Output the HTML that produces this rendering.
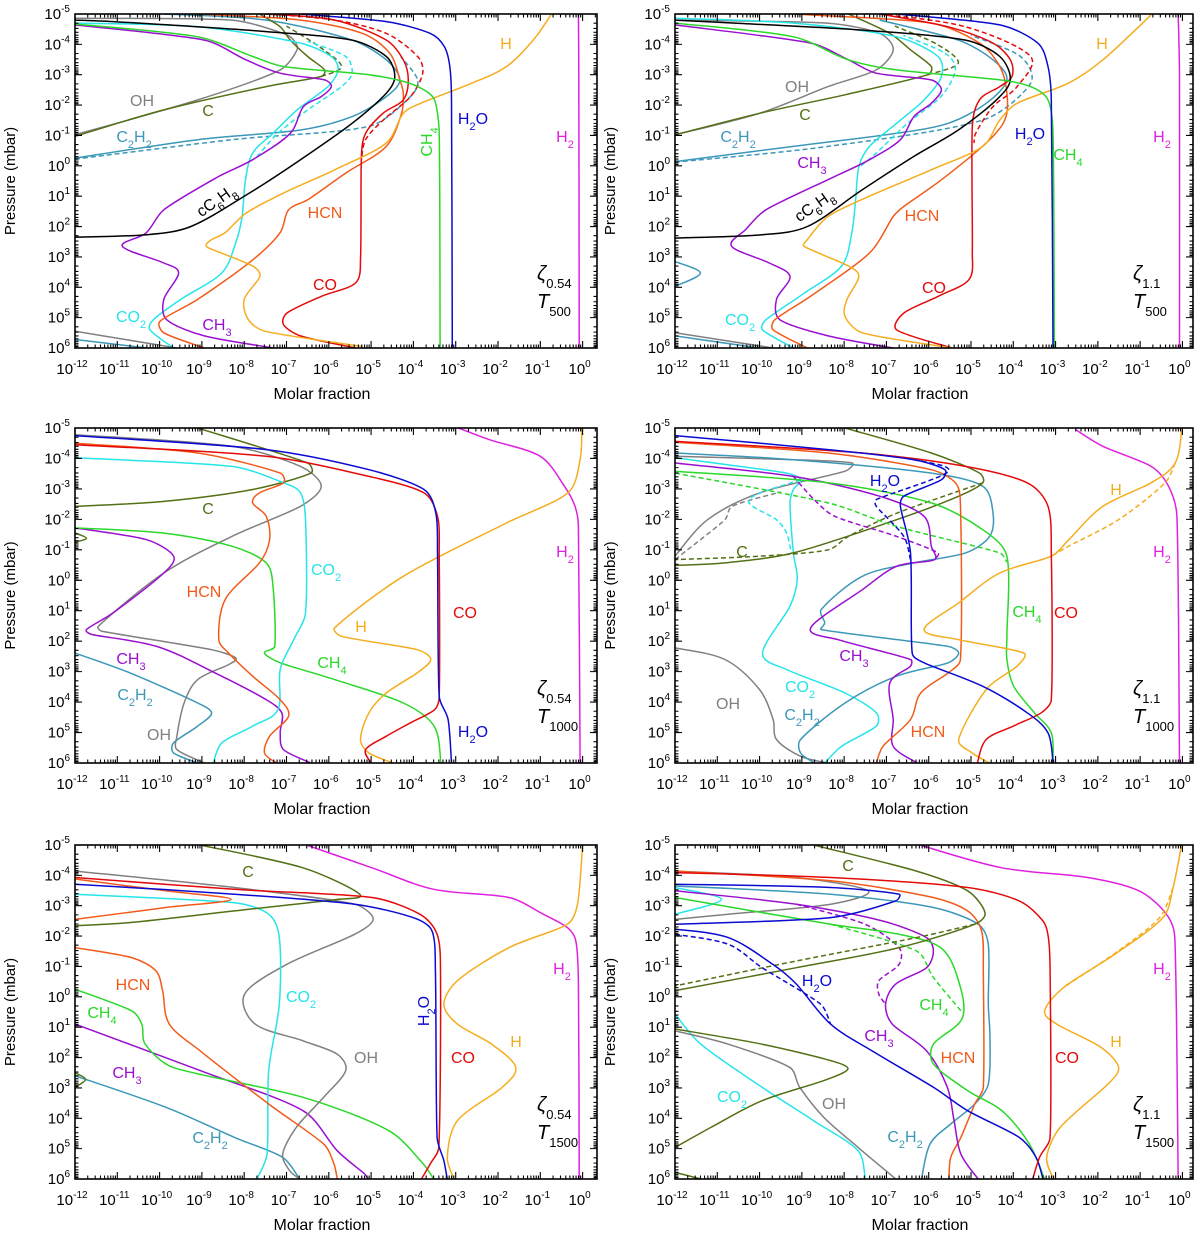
<!DOCTYPE html>
<html><head><meta charset="utf-8"><title>Molar fraction profiles</title>
<style>
html,body{margin:0;padding:0;background:#fff;}
svg{display:block;font-family:"Liberation Sans",sans-serif;}
</style></head>
<body>
<svg id="fig" width="1200" height="1233" viewBox="0 0 1200 1233" xmlns="http://www.w3.org/2000/svg"></svg>
<script>
// ---------- data: [log10 molar fraction, log10 pressure(mbar)] ----------
// Panel 1: zeta0.54 T500
const p1_H2=[[-0.1,-5],[-0.09,-3],[-0.08,6]];
const p1_H2O=[[-6.67,-5],[-4.64,-4.75],[-3.6,-4.36],[-3.27,-3.93],[-3.14,-3.27],[-3.1,-2.17],[-3.08,6]];
const p1_H=[[-5.2,5.95],[-7.5,5.45],[-7.9,5.07],[-8,4.4],[-7.63,3.64],[-7.8,3.3],[-8.85,2.7],[-8.9,2.6],[-8.77,2.43],[-8.45,2.2],[-7.96,1.56],[-7.07,0.9],[-5.86,0.13],[-4.64,-0.75],[-4.24,-1.73],[-3.83,-2.06],[-2.62,-2.72],[-1.8,-3.27],[-1.16,-4.15],[-0.75,-4.97]];
const p1_CH4=[[-12,-4.67],[-9.1,-4.25],[-7.8,-3.6],[-7.07,-3.27],[-5.05,-3],[-4.24,-2.78],[-3.75,-2.5],[-3.5,-2.17],[-3.39,-1.08],[-3.37,6]];
const p1_CO=[[-5.37,6],[-6.67,5.6],[-7.07,5.23],[-6.99,4.85],[-6.18,4.3],[-5.37,3.86],[-5.25,3.09],[-5.23,-0.3],[-5.13,-1.07],[-4.72,-1.73],[-4.24,-2.17],[-4.12,-2.83],[-4.24,-3.49],[-4.64,-4.14],[-5.86,-4.8],[-7.48,-5]];
const p1_COd=[[-7.48,-5],[-5.86,-4.8],[-4.64,-4.36],[-3.9,-3.6],[-3.78,-3.05],[-4.07,-2.28],[-4.72,-1.5],[-5.13,-0.86],[-5.23,-0.2]];
const p1_HCN=[[-8.94,6],[-9.9,5.5],[-9.99,5.12],[-9.1,4.4],[-7.8,3.1],[-7.15,2.2],[-6.95,1.45],[-6.5,1.12],[-5.6,0.24],[-4.64,-0.64],[-4.28,-1.73],[-4.24,-2.39],[-4.32,-2.83],[-4.56,-3.71],[-5.2,-4.36],[-6.67,-4.8],[-9.1,-5]];
const p1_CO2=[[-9.67,6],[-10.23,5.4],[-10.15,5.07],[-9.5,4.4],[-8.53,3.53],[-8.2,2.54],[-8.05,1.67],[-7.97,0.46],[-7.8,-0.42],[-7.32,-1.07],[-6.75,-1.84],[-6.02,-2.61],[-5.78,-3.16],[-5.94,-3.6],[-6.67,-4.04],[-9.1,-4.58],[-12,-4.7]];
const p1_CO2d=[[-7.7,-0.3],[-7.2,-1.07],[-6.5,-1.84],[-5.7,-2.61],[-5.45,-3.05],[-5.6,-3.6],[-6.5,-4.1]];
const p1_CH3=[[-7.3,6],[-8.94,5.6],[-9.83,5.07],[-9.9,4.4],[-9.55,3.53],[-9.9,3.2],[-10.88,2.65],[-10.32,2.21],[-9.9,1.45],[-8.6,0.35],[-7.8,-0.2],[-6.91,-1.07],[-6.6,-1.95],[-6.18,-2.28],[-5.94,-2.61],[-6.1,-2.83],[-7.15,-3.05],[-7.96,-3.49],[-8.94,-4.14],[-12,-4.64]];
const p1_OH=[[-12,-4.86],[-8.3,-4.8],[-7.07,-4.36],[-6.83,-4.14],[-6.75,-3.82],[-7.15,-3.16],[-9.1,-2.17],[-12,-1.02]];
const p1_OHb=[[-12,5.45],[-9.59,6]];
const p1_C=[[-12,-0.97],[-9.9,-1.84],[-7.48,-2.61],[-6.18,-2.94],[-6.1,-3.16],[-6.5,-3.6],[-6.91,-4.14],[-7.15,-4.58],[-7.64,-5]];
const p1_Cd=[[-6.18,-2.94],[-5.7,-3.27],[-6.2,-3.9],[-7.0,-4.6]];
const p1_C2H2=[[-12,-0.25],[-9.1,-0.86],[-6.67,-1.18],[-5.45,-1.62],[-4.64,-2.28],[-4.32,-2.83],[-4.64,-3.49],[-5.45,-4.14],[-7.48,-4.8],[-9.9,-5]];
const p1_C2H2d=[[-12,-0.22],[-8.29,-0.86],[-5.05,-1.3],[-4.07,-2.28],[-3.9,-2.83],[-4.3,-3.6]];
const p1_C2H2b=[[-12,5.72],[-10.3,6]];
const p1_C6H8=[[-12,2.35],[-10.3,2.27],[-9.26,2.0],[-7.88,0.9],[-6.67,-0.2],[-5.45,-1.4],[-4.64,-2.39],[-4.44,-2.94],[-4.64,-3.6],[-5.45,-4.14],[-7.48,-4.42],[-11.1,-4.75],[-12,-4.8]];
// Panel 2: zeta1.1 T500
const p2_H2=[[-0.1,-5],[-0.07,-3],[-0.07,6]];
const p2_H2O=[[-6.76,-5],[-4.32,-4.64],[-3.42,-4.04],[-3.18,-3.27],[-3.1,-2.17],[-3.06,6]];
const p2_CH4=[[-12,-4.7],[-9.2,-4.25],[-7.9,-3.49],[-6.76,-3.16],[-4.32,-2.83],[-3.59,-2.61],[-3.18,-2.17],[-3.06,-1.07],[-3.03,6]];
const p2_H=[[-5.45,6],[-7.57,5.5],[-7.98,4.96],[-7.93,4.4],[-7.65,3.64],[-7.9,3.3],[-8.95,2.65],[-8.87,2.43],[-8.38,1.67],[-7.4,1.0],[-5.94,0.13],[-4.72,-0.64],[-4.32,-1.51],[-3.91,-2.06],[-2.7,-2.72],[-1.88,-3.49],[-0.74,-4.97]];
const p2_CO=[[-5.45,6],[-6.76,5.4],[-6.59,4.85],[-5.78,4.3],[-5.05,3.75],[-4.97,2.87],[-4.97,-1.29],[-4.8,-2.17],[-4.32,-2.61],[-4.03,-2.94],[-4.07,-3.49],[-4.48,-4.04],[-5.54,-4.58],[-7.16,-5]];
const p2_COd=[[-7.16,-5],[-5.13,-4.58],[-3.59,-3.6],[-3.91,-2.61],[-4.48,-1.95],[-4.89,-1.07],[-4.93,-0.75]];
const p2_HCN=[[-8.87,6],[-9.68,5.4],[-9.64,5.07],[-8.8,4.3],[-7.4,2.87],[-6.84,1.67],[-6.59,1.34],[-5.7,0.46],[-4.64,-0.75],[-4.2,-1.51],[-4.15,-2.39],[-4.32,-3.27],[-4.8,-4.04],[-5.94,-4.7],[-9.2,-5]];
const p2_CO2=[[-9.2,6],[-9.93,5.4],[-9.85,5.07],[-8.95,4.2],[-8.06,3.3],[-7.82,2.21],[-7.73,1.12],[-7.65,0.02],[-7.4,-0.64],[-6.76,-1.4],[-6.11,-2.17],[-5.7,-2.94],[-5.78,-3.6],[-6.76,-4.25],[-9.2,-4.7],[-12,-4.86]];
const p2_CO2d=[[-7.6,0.0],[-7.24,-0.42],[-6.5,-1.4],[-5.7,-2.3],[-5.37,-3.16],[-5.6,-3.7],[-6.6,-4.3]];
const p2_CH3=[[-6.84,6],[-8.38,5.6],[-9.52,5.07],[-9.6,4.4],[-9.28,3.64],[-9.77,3.2],[-10.66,2.65],[-10.33,2.1],[-9.85,1.45],[-8.22,0.35],[-7.4,-0.2],[-6.67,-0.86],[-6.35,-1.62],[-5.94,-2.06],[-5.7,-2.5],[-5.94,-2.83],[-7.24,-3.05],[-7.9,-3.49],[-8.79,-4.04],[-12,-4.64]];
const p2_OH=[[-12,-4.8],[-8.4,-4.7],[-7.16,-4.36],[-6.84,-3.82],[-7.24,-3.16],[-8.38,-2.61],[-10,-1.73],[-12,-1.02]];
const p2_OHb=[[-12,5.5],[-9.68,6]];
const p2_C=[[-12,-1.02],[-10,-1.73],[-7.98,-2.34],[-6.02,-3.0],[-5.94,-3.27],[-6.43,-3.82],[-6.92,-4.36],[-7.9,-5]];
const p2_Cd=[[-6.02,-3.0],[-5.3,-3.38],[-5.8,-4.0],[-6.8,-4.6]];
const p2_C2H2=[[-12,-0.14],[-9.2,-0.64],[-6.76,-1.07],[-5.54,-1.4],[-4.64,-2.06],[-4.15,-2.83],[-4.48,-3.49],[-5.3,-4.14],[-7.16,-4.8]];
const p2_C2H2d=[[-12,-0.12],[-8.38,-0.64],[-4.72,-1.51],[-3.59,-2.72],[-3.83,-3.6],[-5.0,-4.3]];
const p2_C2H2l=[[-12,3.15],[-11.4,3.53],[-12,3.97]];
const p2_C2H2b=[[-12,5.6],[-10,6]];
const p2_C6H8=[[-12,2.38],[-9.93,2.27],[-8.87,2.0],[-7.57,0.79],[-6.35,-0.31],[-5.3,-1.18],[-4.4,-2.17],[-4.07,-2.83],[-4.32,-3.6],[-5.13,-4.14],[-7.57,-4.47],[-10.58,-4.7],[-12,-4.8]];
// Panel 3: zeta0.54 T1000
const p3_H2=[[-2.94,-5],[-2.21,-4.62],[-1.0,-4.07],[-0.43,-3.09],[-0.18,-2.43],[-0.1,-1.77],[-0.06,6]];
const p3_H=[[-0.02,-5],[-0.06,-3.96],[-0.35,-2.87],[-1.8,-1.88],[-4.24,-0.13],[-5.86,1.56],[-5.7,1.84],[-3.91,2.28],[-3.59,2.6],[-3.91,3.04],[-4.64,3.7],[-5.05,4.35],[-5.25,5.23],[-5.05,5.67],[-4.48,6]];
const p3_CO=[[-12,-4.45],[-7.48,-4.07],[-5.05,-3.41],[-3.75,-2.87],[-3.43,-2.1],[-3.39,-0.9],[-3.39,3.81],[-3.5,4.25],[-4.07,4.68],[-4.64,5.12],[-5.13,5.56],[-5.0,6]];
const p3_H2O=[[-12,-4.75],[-7.48,-4.29],[-5.05,-3.63],[-3.75,-2.98],[-3.47,-2.21],[-3.43,-0.9],[-3.39,3.81],[-3.18,4.57],[-3.1,6]];
const p3_HCN=[[-12,-4.5],[-9.1,-4.18],[-7.15,-3.52],[-7.07,-3.2],[-7.64,-2.87],[-7.8,-2.54],[-7.48,-2.1],[-7.4,-1.33],[-7.64,-0.57],[-8.45,0.63],[-8.6,1.95],[-8.37,2.39],[-7.8,3.15],[-7.15,3.92],[-6.95,4.46],[-7.4,5.12],[-7.52,5.67],[-7.24,6]];
const p3_CO2=[[-12,-4.02],[-8.29,-3.74],[-7.07,-3.2],[-6.67,-2.87],[-6.55,-1.99],[-6.55,1.07],[-6.83,1.95],[-7.15,2.93],[-7.2,4.25],[-7.8,4.79],[-8.53,5.34],[-8.73,6]];
const p3_C=[[-9.1,-5],[-6.5,-3.85],[-6.42,-3.52],[-7.8,-2.98],[-9.9,-2.59],[-12,-2.43]];
const p3_Cl=[[-12,-1.55],[-11.73,-1.38],[-12,-1.25]];
const p3_OH=[[-12,-4.78],[-8.29,-4.4],[-6.67,-3.74],[-6.18,-3.09],[-6.67,-2.43],[-8.29,-1.44],[-9.9,-0.24],[-11.45,1.51],[-11.37,1.67],[-8.77,2.28],[-8.2,2.55],[-8.37,2.77],[-9.1,3.26],[-9.42,4.03],[-9.59,5.12],[-9.59,5.56],[-8.94,6]];
const p3_CH4=[[-12,-1.72],[-9.9,-1.55],[-8.29,-1.12],[-7.48,-0.57],[-7.32,0.2],[-7.28,2.17],[-7.52,2.39],[-7.15,2.71],[-5.86,3.26],[-4.24,4.03],[-3.51,4.79],[-3.35,6]];
const p3_CH3=[[-12,-1.72],[-10.3,-1.33],[-9.67,-0.79],[-9.9,-0.24],[-11.1,1.07],[-11.73,1.62],[-11.6,1.78],[-10.07,2.17],[-8.69,3.04],[-7.48,3.92],[-7.11,4.36],[-7.15,5.01],[-7.07,5.56],[-6.42,6]];
const p3_C2H2=[[-12,2.39],[-10.7,3.04],[-9.1,4.03],[-8.77,4.36],[-9.1,4.79],[-9.67,5.34],[-9.67,5.67],[-9.1,6]];
// Panel 4: zeta1.1 T1000
const p4_H2=[[-2.53,-4.95],[-1.88,-4.4],[-0.74,-3.74],[-0.33,-3.09],[-0.13,-2.1],[-0.07,6]];
const p4_H=[[-0.01,-5],[-0.17,-3.85],[-0.74,-3.2],[-1.88,-2.43],[-2.69,-1.33],[-3.1,-0.79],[-4.32,-0.24],[-5.29,0.74],[-6.11,1.62],[-5.29,1.95],[-3.75,2.39],[-3.91,2.82],[-4.64,3.59],[-5.29,5.23],[-4.97,5.67],[-4.56,6]];
const p4_Hd=[[-0.17,-3.85],[-0.41,-3.2],[-1.5,-2.0],[-2.69,-1.12],[-3.1,-0.79]];
const p4_CO=[[-12,-4.56],[-7.57,-4.18],[-5.13,-3.74],[-3.67,-3.2],[-3.18,-2.43],[-3.1,-0.9],[-3.1,3.92],[-3.34,4.35],[-4.0,4.79],[-4.64,5.23],[-4.85,6]];
const p4_H2O=[[-12,-4.75],[-8.38,-4.29],[-6.35,-3.96],[-5.62,-3.63],[-5.7,-3.3],[-6.59,-2.76],[-6.67,-2.43],[-6.43,-0.9],[-6.39,2.39],[-6.11,2.71],[-4.72,3.48],[-3.67,4.35],[-3.18,5.01],[-3.06,6]];
const p4_H2Od=[[-6.35,-3.96],[-5.54,-3.57],[-7.24,-2.65],[-7.24,-2.43],[-6.59,-1.44],[-6.43,-0.68]];
const p4_HCN=[[-12,-4.53],[-8.38,-4.18],[-5.94,-3.63],[-5.37,-3.2],[-5.25,-2.54],[-5.25,2.6],[-5.54,3.04],[-6.19,3.7],[-6.43,4.57],[-7.08,5.45],[-7.24,6]];
const p4_C=[[-7.98,-5],[-5.94,-4.18],[-4.8,-3.52],[-4.72,-3.2],[-5.29,-2.76],[-6.76,-1.99],[-9.2,-0.9],[-10.82,-0.57],[-12,-0.49]];
const p4_Cd=[[-4.72,-3.2],[-6.76,-2.2],[-7.9,-1.44],[-8.38,-1.0],[-10,-0.79],[-12,-0.68]];
const p4_C2H2=[[-12,-4.18],[-9.2,-3.96],[-5.94,-3.52],[-4.72,-3.09],[-4.48,-2.21],[-4.56,-1.44],[-5.13,-0.9],[-6.35,-0.57],[-7.57,-0.13],[-8.54,0.96],[-8.46,1.4],[-8.54,1.62],[-5.54,2.17],[-5.29,2.39],[-5.54,2.71],[-6.76,3.15],[-7.98,4.03],[-9.03,5.23],[-9.03,5.67],[-8.7,6]];
const p4_CO2=[[-12,-4.02],[-9.36,-3.52],[-9.03,-3.3],[-9.2,-2.98],[-9.28,-2.54],[-9.2,-0.9],[-9.11,-0.02],[-9.28,0.85],[-9.93,2.39],[-9.36,2.93],[-7.98,3.7],[-7.24,4.35],[-7.24,4.79],[-8.06,5.45],[-8.46,6]];
const p4_CO2d=[[-9.03,-3.3],[-10.25,-2.65],[-9.6,-1.99],[-9.36,-1.55],[-9.25,-0.9]];
const p4_OH=[[-12,-0.79],[-11.23,-1.99],[-10,-2.87],[-7.98,-3.58],[-7.81,-3.85],[-9.2,-3.96],[-12,-4.07]];
const p4_OHd=[[-12,-0.68],[-10.82,-1.99],[-10.65,-2.43],[-9.5,-2.9]];
const p4_OHb=[[-12,2.22],[-10.82,2.6],[-10,3.59],[-9.68,4.57],[-9.6,5.23],[-9.03,5.78],[-8.38,6]];
const p4_CH4=[[-12,-3.58],[-8.38,-3.2],[-5.94,-2.54],[-4.72,-1.66],[-4.15,-0.79],[-4.15,1.84],[-4.15,2.6],[-3.99,3.48],[-3.5,4.35],[-3.1,5.01],[-3.06,6]];
const p4_CH4d=[[-12,-3.52],[-8.38,-2.54],[-6.76,-1.77],[-4.32,-0.9],[-4.15,-0.6]];
const p4_CH3=[[-12,-3.85],[-9.2,-3.41],[-7.16,-2.76],[-6.11,-2.1],[-5.94,-1.12],[-5.86,-0.68],[-6.76,-0.46],[-7.57,0.31],[-8.79,1.56],[-8.14,1.95],[-6.43,2.6],[-6.43,2.82],[-6.92,3.37],[-6.84,4.57],[-6.84,5.45],[-6.27,6]];
const p4_CH3d=[[-9.2,-3.41],[-8.71,-2.65],[-8.22,-2.1],[-6.76,-1.44],[-5.78,-0.9],[-5.86,-0.68]];
// Panel 5: zeta0.54 T1500
const p5_H2=[[-6.53,-5],[-4.98,-4.25],[-3.52,-3.54],[-1.74,-3.27],[-0.93,-2.72],[-0.36,-2.28],[-0.16,-1.84],[-0.1,-0.5],[-0.08,6]];
const p5_H=[[0,-5],[-0.12,-3.05],[-0.36,-2.39],[-1.74,-1.62],[-2.96,-0.53],[-3.28,0.24],[-2.96,0.9],[-2.15,1.56],[-1.58,2.32],[-1.9,2.98],[-2.96,4.08],[-3.2,5.29],[-3.04,6]];
const p5_CO=[[-12,-3.93],[-8.23,-3.54],[-4.98,-3.27],[-3.85,-2.72],[-3.44,-2.06],[-3.36,-0.86],[-3.4,4.96],[-3.6,5.5],[-3.81,6]];
const p5_H2O=[[-12,-3.71],[-8.23,-3.38],[-5.39,-3.05],[-4.01,-2.61],[-3.56,-2.17],[-3.48,-0.86],[-3.44,4.63],[-3.28,5.4],[-3.2,6]];
const p5_C=[[-9.04,-5],[-6.61,-4.25],[-5.27,-3.38],[-5.8,-3.21],[-8.23,-2.83],[-10.66,-2.45],[-12,-2.34]];
const p5_Cl=[[-12,2.5],[-11.75,2.72],[-12,2.98]];
const p5_HCNt=[[-12,-3.88],[-9.85,-3.49],[-8.31,-3.21],[-9.85,-2.94],[-12,-2.55]];
const p5_HCN=[[-12,-1.62],[-10.66,-1.29],[-10.09,-0.86],[-9.93,-0.2],[-9.77,0.9],[-9.04,1.78],[-7.42,3.53],[-6.12,4.85],[-5.88,5.5],[-5.8,6]];
const p5_CO2=[[-12,-3.38],[-8.23,-3.1],[-7.42,-2.72],[-7.17,-1.95],[-7.17,0.24],[-7.42,2.43],[-7.46,5.18],[-7.7,6]];
const p5_OH=[[-12,-4.14],[-8.23,-3.6],[-5.39,-3.05],[-4.95,-2.56],[-5.39,-2.06],[-6.99,-1.07],[-7.99,-0.09],[-7.74,0.9],[-6.61,1.45],[-5.8,1.89],[-5.6,2.43],[-6.12,3.31],[-6.77,4.3],[-7.09,5.18],[-6.93,5.72],[-6.69,6]];
const p5_CH4=[[-12,-0.25],[-10.66,0.46],[-10.42,0.9],[-10.34,1.56],[-9.69,2.32],[-6.61,3.31],[-4.58,4.41],[-3.77,5.5],[-3.52,6]];
const p5_CH3=[[-12,0.9],[-9.04,2.43],[-6.61,3.75],[-5.8,5.07],[-5.15,5.84],[-5.07,6]];
const p5_C2H2=[[-12,2.6],[-9.85,3.64],[-8.23,4.63],[-7.09,5.29],[-6.69,6]];
// Panel 6: zeta1.1 T1500
const p6_H2=[[-6.21,-5],[-4.27,-4.25],[-2.24,-3.93],[-1.03,-3.49],[-0.38,-2.72],[-0.18,-1.95],[-0.1,6]];
const p6_H=[[-0.02,-5],[-0.22,-3.6],[-0.46,-2.61],[-1.6,-1.4],[-2.81,-0.31],[-3.26,0.46],[-2.97,0.9],[-1.92,1.67],[-1.51,2.32],[-1.76,2.87],[-2.89,4.3],[-3.21,5.29],[-3.05,6]];
const p6_Hd=[[-0.22,-3.6],[-0.54,-2.61],[-1.52,-1.51],[-2.81,-0.31]];
const p6_CO=[[-12,-4.09],[-8.32,-3.93],[-5.08,-3.6],[-3.86,-3.16],[-3.3,-2.5],[-3.17,-1.95],[-3.13,-0.86],[-3.13,4.63],[-3.38,5.29],[-3.54,6]];
const p6_C=[[-8.72,-5],[-6.29,-4.14],[-5.08,-3.49],[-4.67,-2.77],[-4.91,-2.39],[-6.7,-1.62],[-9.13,-0.96],[-12,-0.2]];
const p6_Cd=[[-4.91,-2.39],[-6.29,-1.95],[-9.13,-1.18],[-12,-0.36]];
const p6_Cb=[[-12,1.06],[-9.94,1.56],[-8.32,2.1],[-7.91,2.38],[-8.48,2.76],[-9.94,3.42],[-11.15,4.3],[-12,4.96]];
const p6_Cc=[[-12,5.78],[-11.39,6]];
const p6_HCN=[[-12,-4.14],[-8.32,-3.82],[-5.89,-3.27],[-5.08,-2.83],[-4.75,-2.17],[-4.71,-0.86],[-4.71,2.98],[-4.91,3.53],[-5.24,4.63],[-5.48,5.29],[-5.52,6]];
const p6_C2H2=[[-12,-3.65],[-8.32,-3.38],[-5.89,-2.94],[-4.83,-2.39],[-4.59,-1.73],[-4.59,0.24],[-4.55,1.34],[-4.59,2.87],[-4.91,3.53],[-5.48,4.19],[-5.97,4.85],[-6.17,6]];
const p6_H2Ot=[[-12,-3.71],[-8.32,-3.6],[-6.7,-3.38],[-6.78,-3.16],[-8.32,-2.61],[-12,-2.39]];
const p6_H2O=[[-12,-2.23],[-10.74,-1.95],[-9.69,-1.07],[-9.13,-0.42],[-8.32,0.9],[-7.34,1.78],[-5.89,2.98],[-5.08,3.75],[-3.86,4.63],[-3.46,5.29],[-3.3,6]];
const p6_H2Od=[[-12,-2.06],[-10.74,-1.73],[-9.94,-0.96],[-8.56,0.24],[-8.32,0.9]];
const p6_OHt=[[-12,-4.14],[-9.13,-3.93],[-7.43,-3.49],[-8.32,-3.05],[-10.74,-2.72],[-12,-2.55]];
const p6_OH=[[-12,1.12],[-10.74,1.56],[-9.29,2.32],[-9.05,2.98],[-8.48,3.97],[-7.67,4.96],[-6.78,6]];
const p6_CO2t=[[-12,-3.6],[-10.9,-3.21],[-12,-2.72]];
const p6_CO2=[[-12,0.57],[-11.39,1.56],[-9.94,2.98],[-8.72,4.08],[-7.67,5.07],[-7.5,6]];
const p6_CH4=[[-12,-3.27],[-8.32,-2.39],[-6.7,-2.06],[-5.72,-1.62],[-5.32,-0.64],[-5.2,0.68],[-5.89,1.56],[-5.89,2.21],[-5.08,3.09],[-4.27,3.75],[-3.62,4.85],[-3.26,6]];
const p6_CH4d=[[-8.32,-2.39],[-6.29,-1.51],[-5.89,-0.64],[-5.24,0.46]];
const p6_CH3=[[-12,-3.49],[-9.13,-3.05],[-7.1,-2.5],[-6.05,-1.95],[-5.89,-1.51],[-6.05,-0.96],[-6.78,-0.42],[-7.02,0.24],[-6.86,0.9],[-6.05,1.78],[-5.56,2.98],[-5.4,4.08],[-5.24,5.18],[-4.83,6]];
const p6_CH3d=[[-9.13,-3.05],[-7.51,-2.39],[-6.7,-1.62],[-6.7,-1.07],[-7.18,-0.53],[-7.18,-0.09],[-7.02,0.24]];

const xTickLabels=["-12","-11","-10","-9","-8","-7","-6","-5","-4","-3","-2","-1","0"];
const yTickLabels=["-5","-4","-3","-2","-1","0","1","2","3","4","5","6"];

// ---------- styles & layout ----------
const C={H2:"#e020e0",H:"#f5ad1e",H2O:"#0a0ad2",CO:"#e40a0a",HCN:"#f35a1a",CH4:"#2ad82a",CH3:"#9a0fd0",CO2:"#25e4ea",OH:"#808080",C:"#547015",C2H2:"#3b98b8",C6:"#000"};
const S="<tspan baseline-shift='sub' font-size='11'>";
const E="</tspan>";
const panels=[
 {name:"panel-zeta054-t500",x:75,y:14,w:522,h:334,xmax:0.34,zeta:"0.54",T:"500",
  series:[[p1_H2,"H2"],[p1_C2H2b,"C2H2"],[p1_OHb,"OH"],[p1_C2H2,"C2H2"],[p1_C2H2d,"C2H2",1],[p1_OH,"OH"],[p1_C,"C"],[p1_Cd,"C",1],[p1_CO2,"CO2"],[p1_CO2d,"CO2",1],[p1_CH3,"CH3"],[p1_HCN,"HCN"],[p1_CO,"CO"],[p1_COd,"CO",1],[p1_H,"H"],[p1_C6H8,"C6"],[p1_CH4,"CH4"],[p1_H2O,"H2O"]],
  labels:[["OH",142,106,"OH"],["C",208,116,"C"],["C"+S+"2"+E+"H"+S+"2"+E,134,142,"C2H2"],["HCN",325,218,"HCN"],["CO",325,290,"CO"],["CO"+S+"2"+E,131,322,"CO2"],["CH"+S+"3"+E,217,330,"CH3"],["H",506,49,"H"],["H"+S+"2"+E+"O",473,124,"H2O"],["H"+S+"2"+E,565,142,"H2"]],
  rot:[["CH"+S+"4"+E,432,142,-90,"CH4"],["cC"+S+"6"+E+"H"+S+"8"+E,219,205,-35,"C6"]]},
 {name:"panel-zeta11-t500",x:675,y:14,w:518,h:334,xmax:0.25,zeta:"1.1",T:"500",
  series:[[p2_H2,"H2"],[p2_C2H2b,"C2H2"],[p2_OHb,"OH"],[p2_C2H2l,"C2H2"],[p2_C2H2,"C2H2"],[p2_C2H2d,"C2H2",1],[p2_OH,"OH"],[p2_C,"C"],[p2_Cd,"C",1],[p2_CO2,"CO2"],[p2_CO2d,"CO2",1],[p2_CH3,"CH3"],[p2_HCN,"HCN"],[p2_CO,"CO"],[p2_COd,"CO",1],[p2_H,"H"],[p2_C6H8,"C6"],[p2_CH4,"CH4"],[p2_H2O,"H2O"]],
  labels:[["OH",797,92,"OH"],["C",805,120,"C"],["C"+S+"2"+E+"H"+S+"2"+E,738,142,"C2H2"],["CH"+S+"3"+E,812,168,"CH3"],["HCN",922,221,"HCN"],["CO",934,293,"CO"],["CO"+S+"2"+E,740,325,"CO2"],["H",1102,49,"H"],["H"+S+"2"+E+"O",1030,139,"H2O"],["CH"+S+"4"+E,1068,160,"CH4"],["H"+S+"2"+E,1162,142,"H2"]],
  rot:[["cC"+S+"6"+E+"H"+S+"8"+E,817,210,-35,"C6"]]},
 {name:"panel-zeta054-t1000",x:75,y:428,w:522,h:335,xmax:0.34,zeta:"0.54",T:"1000",
  series:[[p3_H2,"H2"],[p3_C2H2,"C2H2"],[p3_OH,"OH"],[p3_C,"C"],[p3_Cl,"C"],[p3_CH3,"CH3"],[p3_CH4,"CH4"],[p3_CO2,"CO2"],[p3_HCN,"HCN"],[p3_H,"H"],[p3_CO,"CO"],[p3_H2O,"H2O"]],
  labels:[["C",208,514,"C"],["H"+S+"2"+E,565,557,"H2"],["CO"+S+"2"+E,326,575,"CO2"],["HCN",204,597,"HCN"],["CO",465,618,"CO"],["H",361,632,"H"],["CH"+S+"3"+E,131,664,"CH3"],["CH"+S+"4"+E,332,668,"CH4"],["C"+S+"2"+E+"H"+S+"2"+E,135,700,"C2H2"],["OH",159,740,"OH"],["H"+S+"2"+E+"O",473,737,"H2O"]],rot:[]},
 {name:"panel-zeta11-t1000",x:675,y:428,w:518,h:335,xmax:0.25,zeta:"1.1",T:"1000",
  series:[[p4_H2,"H2"],[p4_OHb,"OH"],[p4_OH,"OH"],[p4_OHd,"OH",1],[p4_CO2,"CO2"],[p4_CO2d,"CO2",1],[p4_C2H2,"C2H2"],[p4_C,"C"],[p4_Cd,"C",1],[p4_CH3,"CH3"],[p4_CH3d,"CH3",1],[p4_CH4,"CH4"],[p4_CH4d,"CH4",1],[p4_HCN,"HCN"],[p4_H,"H"],[p4_Hd,"H",1],[p4_CO,"CO"],[p4_H2O,"H2O"],[p4_H2Od,"H2O",1]],
  labels:[["H"+S+"2"+E+"O",885,486,"H2O"],["H",1116,495,"H"],["C",742,557,"C"],["H"+S+"2"+E,1162,557,"H2"],["CH"+S+"4"+E,1027,617,"CH4"],["CO",1066,618,"CO"],["CH"+S+"3"+E,854,661,"CH3"],["CO"+S+"2"+E,800,692,"CO2"],["OH",728,709,"OH"],["C"+S+"2"+E+"H"+S+"2"+E,802,720,"C2H2"],["HCN",928,737,"HCN"]],rot:[]},
 {name:"panel-zeta054-t1500",x:75,y:845,w:522,h:334,xmax:0.34,zeta:"0.54",T:"1500",
  series:[[p5_H2,"H2"],[p5_C2H2,"C2H2"],[p5_CH3,"CH3"],[p5_CH4,"CH4"],[p5_OH,"OH"],[p5_CO2,"CO2"],[p5_HCNt,"HCN"],[p5_HCN,"HCN"],[p5_C,"C"],[p5_Cl,"C"],[p5_H,"H"],[p5_CO,"CO"],[p5_H2O,"H2O"]],
  labels:[["C",248,877,"C"],["HCN",133,990,"HCN"],["CO"+S+"2"+E,301,1002,"CO2"],["CH"+S+"4"+E,102,1018,"CH4"],["H"+S+"2"+E,562,974,"H2"],["H",516,1047,"H"],["OH",366,1063,"OH"],["CO",463,1063,"CO"],["CH"+S+"3"+E,127,1078,"CH3"],["C"+S+"2"+E+"H"+S+"2"+E,210,1143,"C2H2"]],
  rot:[["H"+S+"2"+E+"O",429,1011,-90,"H2O"]]},
 {name:"panel-zeta11-t1500",x:675,y:845,w:518,h:334,xmax:0.25,zeta:"1.1",T:"1500",
  series:[[p6_H2,"H2"],[p6_Cc,"C"],[p6_CO2t,"CO2"],[p6_CO2,"CO2"],[p6_OHt,"OH"],[p6_OH,"OH"],[p6_Cb,"C"],[p6_C2H2,"C2H2"],[p6_HCN,"HCN"],[p6_CH3,"CH3"],[p6_CH3d,"CH3",1],[p6_CH4,"CH4"],[p6_CH4d,"CH4",1],[p6_C,"C"],[p6_Cd,"C",1],[p6_H2Ot,"H2O"],[p6_H2O,"H2O"],[p6_H2Od,"H2O",1],[p6_H,"H"],[p6_Hd,"H",1],[p6_CO,"CO"]],
  labels:[["C",848,871,"C"],["H"+S+"2"+E+"O",817,986,"H2O"],["CH"+S+"4"+E,934,1010,"CH4"],["H"+S+"2"+E,1162,974,"H2"],["CH"+S+"3"+E,879,1041,"CH3"],["H",1116,1047,"H"],["HCN",958,1063,"HCN"],["CO",1067,1063,"CO"],["CO"+S+"2"+E,732,1102,"CO2"],["OH",834,1109,"OH"],["C"+S+"2"+E+"H"+S+"2"+E,905,1142,"C2H2"]],rot:[]}
];

const NS="http://www.w3.org/2000/svg";
const svg=document.getElementById('fig');
function mk(tag,attrs,parent){const e=document.createElementNS(NS,tag);for(const k in attrs)e.setAttribute(k,attrs[k]);(parent||svg).appendChild(e);return e;}
function clampVec(v,maxLen){const l=Math.hypot(v[0],v[1]);if(l>maxLen&&l>0){return [v[0]*maxLen/l,v[1]*maxLen/l];}return v;}
function smooth(pts){
  if(pts.length<2)return "";
  let d="M"+pts[0][0].toFixed(1)+","+pts[0][1].toFixed(1);
  for(let i=0;i<pts.length-1;i++){
    const p0=pts[i-1]||pts[i],p1=pts[i],p2=pts[i+1],p3=pts[i+2]||p2;
    const seg=Math.hypot(p2[0]-p1[0],p2[1]-p1[1]);
    const t1=clampVec([(p2[0]-p0[0])/6,(p2[1]-p0[1])/6],seg/3);
    const t2=clampVec([(p3[0]-p1[0])/6,(p3[1]-p1[1])/6],seg/3);
    const c1=[p1[0]+t1[0],p1[1]+t1[1]];
    const c2=[p2[0]-t2[0],p2[1]-t2[1]];
    d+="C"+c1[0].toFixed(1)+","+c1[1].toFixed(1)+" "+c2[0].toFixed(1)+","+c2[1].toFixed(1)+" "+p2[0].toFixed(1)+","+p2[1].toFixed(1);
  }
  return d;
}
const defs=mk('defs',{});

panels.forEach((P,pi)=>{
  const sx=lx=>P.x+(lx+12)/(P.xmax+12)*P.w;
  const sy=lp=>P.y+(lp+5)/11*P.h;
  const g=mk('g',{});
  
  
  const cp=mk('clipPath',{id:'clip'+pi},defs);
  mk('rect',{x:P.x,y:P.y,width:P.w,height:P.h},cp);
  const sg=mk('g',{'clip-path':'url(#clip'+pi+')'},g);
  P.series.forEach(s=>{
    const pts=s[0].map(v=>[sx(v[0]),sy(v[1])]);
    const path=mk('path',{d:smooth(pts),fill:'none',stroke:C[s[1]],'stroke-width':1.5,'stroke-dasharray':s[2]?'5,3':'none'},sg);
    
    
  });
  const fr=mk('rect',{x:P.x,y:P.y,width:P.w,height:P.h,fill:'none',stroke:'#000','stroke-width':1.6},g);
  
  
  let tk="";
  for(let d=-12;d<=0;d++){
    const X=sx(d);
    tk+=`M${X},${P.y+P.h}v-7M${X},${P.y}v7`;
    for(let m=2;m<=9;m++){const xm=sx(d+Math.log10(m));if(xm<P.x+P.w)tk+=`M${xm},${P.y+P.h}v-3.5M${xm},${P.y}v3.5`;}
  }
  for(let d=-5;d<=6;d++){
    const Y=sy(d);
    tk+=`M${P.x},${Y}h7M${P.x+P.w},${Y}h-7`;
    if(d<6)for(let m=2;m<=9;m++){const ym=sy(d+Math.log10(m));tk+=`M${P.x},${ym}h3.5M${P.x+P.w},${ym}h-3.5`;}
  }
  const tp=mk('path',{d:tk,stroke:'#000','stroke-width':1.1,fill:'none'},g);
  
  
  xTickLabels.forEach((l,i)=>{
    const t=mk('text',{x:sx(-12+i)-3,y:P.y+P.h+26,'font-size':15,'text-anchor':'middle'},g);
    t.innerHTML="10<tspan dy='-7' font-size='10'>"+l+"</tspan>";
    
    
  });
  yTickLabels.forEach((l,i)=>{
    const t=mk('text',{x:P.x-5,y:sy(-5+i)+5,'font-size':15,'text-anchor':'end'},g);
    t.innerHTML="10<tspan dy='-7' font-size='10'>"+l+"</tspan>";
    
    
  });
  const xt=mk('text',{x:P.x+P.w/2-14,y:P.y+P.h+51,'font-size':16,'text-anchor':'middle'},g);
  xt.textContent="Molar fraction";
  
  
  const yt=mk('text',{x:0,y:0,'font-size':15,'text-anchor':'middle',transform:`translate(${P.x-60},${P.y+P.h/2}) rotate(-90)`},g);
  yt.textContent="Pressure (mbar)";
  
  
  const za=mk('text',{x:P.x+P.w-60,y:P.y+P.h-68,'font-size':20,'font-style':'italic'},g);
  za.innerHTML="ζ<tspan baseline-shift='sub' font-size='13' font-style='normal'>"+P.zeta+"</tspan>";
  
  
  const ta=mk('text',{x:P.x+P.w-60,y:P.y+P.h-40,'font-size':20,'font-style':'italic'},g);
  ta.innerHTML="T<tspan baseline-shift='sub' font-size='13' font-style='normal'>"+P.T+"</tspan>";
  
  
  P.labels.forEach(L=>{
    const t=mk('text',{x:L[1],y:L[2],'font-size':16,'text-anchor':'middle',fill:C[L[3]]},g);
    t.innerHTML=L[0];
    
    
  });
  P.rot.forEach(L=>{
    const t=mk('text',{x:0,y:0,'font-size':16,'text-anchor':'middle',fill:C[L[4]],transform:`translate(${L[1]},${L[2]}) rotate(${L[3]})`},g);
    t.innerHTML=L[0];
    
    
  });
});
</script>
</body></html>
